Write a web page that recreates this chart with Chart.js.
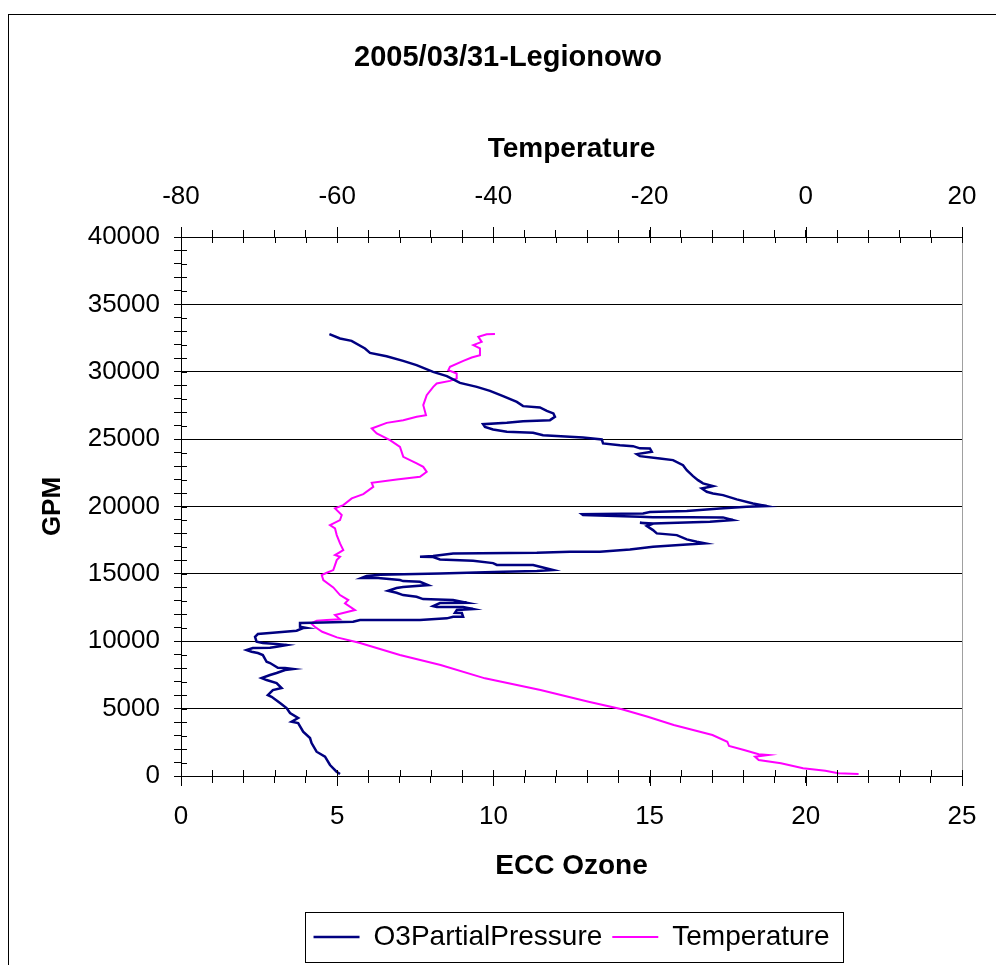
<!DOCTYPE html>
<html>
<head>
<meta charset="utf-8">
<script src="https://cdn.jsdelivr.net/npm/chart.js@4.4.0/dist/chart.umd.min.js"></script>
<style>
  html, body { margin: 0; padding: 0; background: #fff; overflow: hidden; }
  #wrap { width: 996px; height: 965px; }
</style>
</head>
<body>
<div id="wrap"><canvas id="sonde" width="996" height="965"></canvas></div>
<script>
// sounding 2005/03/31 Legionowo
const ozoneGpm = [148, 319, 816, 1432, 1803, 2448, 2819, 3286, 3932, 4028, 4302, 4673, 5044, 5415, 5882, 6009,
  6379, 6528, 6899, 7121, 7270, 7492, 7641, 7863, 7937, 8011, 8030, 8382, 8479, 8976, 9124, 9221, 9347, 9495,
  9517, 9592, 9718, 9792, 9866, 9962, 10333, 10534, 10630, 10778, 10979, 10990, 11075, 11350, 11372, 11446,
  11572, 11580, 11698, 11817, 11825, 12091, 12114, 12314, 12388, 12537, 12545, 12611, 12833, 12856, 13056,
  13130, 13301, 13427, 13597, 13746, 13946, 14020, 14168, 14413, 14465, 14539, 14688, 14695, 14836, 14933,
  15036, 15155, 15207, 15281, 15526, 15652, 15660, 15800, 15971, 16075, 16245, 16268, 16320, 16520, 16565,
  16639, 16645, 16817, 17010, 17188, 17262, 17381, 17559, 17877, 18004, 18248, 18545, 18693, 18790, 18745,
  18864, 18990, 19190, 19195, 19200, 19235, 19361, 19435, 19487, 19584, 19658, 19858, 19976, 20029, 20229,
  20526, 20845, 20971, 21090, 21342, 21512, 21713, 21957, 22254, 22699, 23070, 23441, 23567, 23738, 23886,
  24057, 24309, 24315, 24479, 24554, 24680, 24976, 25125, 25295, 25466, 25540, 25718, 25911, 26111, 26208,
  26334, 26408, 26653, 26905, 27098, 27350, 27447, 27766, 28188, 28582, 28879, 29175, 29672, 29991, 30488,
  30807, 31156, 31401, 31727, 32291, 32469, 32788];
const ozoneValues = [5.09, 4.98, 4.77, 4.61, 4.34, 4.18, 4.13, 3.91, 3.75, 3.54, 3.75, 3.49, 3.38, 3.17, 2.90, 2.78,
  2.94, 3.22, 3.06, 2.74, 2.58, 2.85, 3.06, 3.33, 3.59, 3.33, 3.10, 2.85, 2.74, 2.62, 2.46, 2.26, 2.10, 2.30,
  2.85, 3.06, 3.38, 3.06, 2.62, 2.42, 2.37, 2.46, 2.94, 3.70, 3.91, 4.00, 3.81, 3.81, 4.23, 5.51,
  5.73, 7.65, 8.51, 8.71, 9.03, 8.99, 8.77, 8.83, 9.35, 9.03, 8.19, 8.07, 8.29, 9.15, 8.71,
  7.75, 7.54, 7.11, 6.90, 6.63, 6.90, 7.11, 7.91, 7.65, 7.11, 7.01, 6.31, 5.78, 5.94, 6.37,
  8.29, 10.31, 11.39, 11.91, 11.49, 11.27, 10.11, 9.99, 9.35, 8.29, 8.07, 7.65, 8.07, 8.71, 11.39,
  12.45, 13.41, 14.37, 15.11, 16.19, 16.77, 16.51, 16.19, 15.87, 15.23, 15.11, 14.91, 15.07, 14.69, 15.11,
  16.93, 17.67, 17.35, 16.29, 15.11, 14.69, 12.87, 12.83, 14.79, 15.01, 16.19, 17.25, 18.11, 18.75, 18.31,
  17.79, 17.35, 17.03, 16.83, 16.67, 17.03, 16.71, 16.55, 16.39, 16.19, 16.07, 15.75, 15.33, 14.69, 14.59,
  15.07, 15.01, 14.69, 14.47, 14.05, 13.51, 13.47, 12.87, 11.59, 11.27, 10.43, 9.99, 9.73, 9.67, 10.43,
  10.95, 11.81, 11.97, 11.92, 11.71, 11.49, 10.95, 10.75, 10.31, 9.89, 9.47, 8.93, 8.51, 8.07, 7.54,
  7.11, 6.58, 6.05, 5.89, 5.46, 5.09, 4.75];

const tempGpm = [148, 200, 393, 571, 942, 1187, 1432, 1558, 1610, 1929, 2225, 2544, 3041, 3783, 4399, 4948,
  5512, 6379, 7247, 8234, 8976, 9888, 10289, 10704, 11075, 11327, 11520, 11572, 11624, 11943, 12314, 12811,
  13056, 13427, 13998, 14539, 14910, 15081, 15281, 15652, 16023, 16268, 16394, 16765, 17262, 17877, 18374,
  18619, 18990, 19361, 19858, 20103, 20600, 20919, 21460, 21757, 22010, 22202, 22573, 22944, 23196, 23686,
  24428, 24924, 25421, 25792, 26208, 26408, 26653, 26779, 27521, 28262, 28879, 29131, 29324, 29502, 29873,
  30117, 30362, 30807, 31059, 31230, 31727, 31972, 32217, 32588, 32788, 32795];
const tempValues = [6.76, 4.16, 2.50, -0.35, -3.18, -6.03, -6.50, -4.84, -6.03, -7.91, -9.83, -10.05, -11.95, -16.91, -20.23, -23.55,
  -27.81, -33.97, -41.08, -46.76, -51.97, -57.18, -60.03, -61.92, -62.87, -63.34, -62.62, -61.34, -59.64, -60.28, -57.72, -59.0,
  -58.58, -59.64, -60.50, -61.78, -61.98, -61.34, -60.50, -60.28, -60.06, -59.64, -60.28, -59.22, -59.64, -60.06, -60.28,
  -60.92, -59.64, -59.42, -60.28, -59.22, -58.14, -56.66, -55.38, -55.58, -52.38, -49.40, -48.54, -48.98, -49.82, -51.54,
  -51.96, -53.24, -54.94, -55.58, -53.66, -51.54, -49.82, -48.63, -48.98, -48.54, -47.70, -47.26, -45.56, -44.70, -44.70,
  -45.77, -45.56, -43.85, -42.78, -41.72, -41.72, -42.57, -41.50, -41.93, -40.86, -39.80];

const ozoneLabels = [0, 5, 10, 15, 20, 25];
const tempLabels = [-80, -60, -40, -20, 0, 20];
const gpmLabels = [0, 5000, 10000, 15000, 20000, 25000, 30000, 35000, 40000];

Chart.defaults.font.family = '"Liberation Sans", Arial, sans-serif';
Chart.defaults.color = '#000';

const toPoints = (ys, xs) => ys.map((y, i) => ({ x: xs[i], y: y }));

// page frame, legend box and ticks that cross the axes
const framePlugin = {
  id: 'frame',
  beforeDraw: (chart) => {
    const ctx = chart.ctx;
    ctx.save();
    ctx.strokeStyle = '#000';
    ctx.lineWidth = 1;
    ctx.strokeRect(8.5, 14.5, 2000, 2000);
    ctx.restore();
  },
  afterDraw: (chart) => {
    const ctx = chart.ctx;
    const area = chart.chartArea;
    ctx.save();
    ctx.lineWidth = 1;
    ctx.strokeStyle = '#000';
    const inner = 6;
    const xo = chart.scales.xOz, xt = chart.scales.xTemp, ys = chart.scales.y;
    ctx.beginPath();
    xo.ticks.forEach((t) => {
      const p = Math.round(xo.getPixelForValue(t.value)) + 0.5;
      ctx.moveTo(p, area.bottom);
      ctx.lineTo(p, area.bottom - inner);
      if (ozoneLabels.includes(t.value)) {
        ctx.moveTo(p, area.bottom);
        ctx.lineTo(p, area.bottom + 10);
      }
    });
    xt.ticks.forEach((t) => {
      const p = Math.round(xt.getPixelForValue(t.value)) + 0.5;
      ctx.moveTo(p, area.top);
      ctx.lineTo(p, area.top + inner);
      if (tempLabels.includes(t.value)) {
        ctx.moveTo(p, area.top);
        ctx.lineTo(p, area.top - 10);
      }
    });
    ys.ticks.forEach((t) => {
      const p = Math.round(ys.getPixelForValue(t.value)) + 0.5;
      ctx.moveTo(area.left, p);
      ctx.lineTo(area.left + inner, p);
    });
    ctx.stroke();

    const hb = chart.legend.legendHitBoxes;
    if (hb && hb.length) {
      const last = hb[hb.length - 1];
      const l = Math.round(hb[0].left - 9) + 0.5;
      const r = Math.round(last.left + last.width + 14) + 0.5;
      const t = Math.round(chart.legend.top - 1) + 0.5;
      const b = Math.round(chart.legend.bottom + 1) + 0.5;
      ctx.strokeRect(l, t, r - l, b - t);
    }
    ctx.restore();
  },
};

new Chart(document.getElementById('sonde'), {
  type: 'scatter',
  data: {
    datasets: [
      {
        label: 'O3PartialPressure',
        data: toPoints(ozoneGpm, ozoneValues),
        xAxisID: 'xOz',
        yAxisID: 'y',
        showLine: true,
        borderColor: '#000080',
        backgroundColor: '#000080',
        borderWidth: 2.5,
        pointRadius: 0,
        pointStyle: 'line',
        tension: 0,
      },
      {
        label: 'Temperature',
        data: toPoints(tempGpm, tempValues),
        xAxisID: 'xTemp',
        yAxisID: 'y',
        showLine: true,
        borderColor: '#ff00ff',
        backgroundColor: '#ff00ff',
        borderWidth: 2,
        pointRadius: 0,
        pointStyle: 'line',
        tension: 0,
      },
    ],
  },
  options: {
    responsive: false,
    animation: false,
    devicePixelRatio: 1,
    layout: { padding: { left: 36, right: 16, top: 0, bottom: 4 } },
    plugins: {
      tooltip: { enabled: false },
      title: {
        display: true,
        text: '2005/03/31-Legionowo',
        color: '#000',
        font: { size: 29, weight: 'bold' },
        padding: { top: 41, bottom: 8 },
      },
      legend: {
        position: 'bottom',
        fullSize: false,
        labels: {
          usePointStyle: true,
          pointStyleWidth: 46,
          font: { size: 28 },
          color: '#000',
          padding: 10,
        },
      },
    },
    scales: {
      xOz: {
        type: 'linear',
        position: 'bottom',
        min: 0,
        max: 25,
        afterFit: (scale) => { scale.height = 137; },
        ticks: {
          stepSize: 1,
          autoSkip: false,
          maxRotation: 0,
          padding: 18,
          font: { size: 26 },
          callback: (v) => (ozoneLabels.includes(v) ? v : ''),
        },
        grid: { drawOnChartArea: false, tickLength: 7, tickColor: '#000' },
        border: { color: '#000', width: 1 },
        title: {
          display: true,
          text: 'ECC Ozone',
          font: { size: 28, weight: 'bold' },
          padding: { top: 0, bottom: 30 },
        },
      },
      xTemp: {
        type: 'linear',
        position: 'top',
        min: -80,
        max: 20,
        afterFit: (scale) => { scale.height = 153.2; },
        ticks: {
          stepSize: 4,
          autoSkip: false,
          maxRotation: 0,
          padding: 18,
          font: { size: 26 },
          callback: (v) => (tempLabels.includes(v) ? v : ''),
        },
        grid: { drawOnChartArea: false, tickLength: 7, tickColor: '#000' },
        border: { color: '#000', width: 1 },
        title: {
          display: true,
          text: 'Temperature',
          font: { size: 28, weight: 'bold' },
          padding: { top: 49, bottom: 0 },
        },
      },
      y: {
        type: 'linear',
        position: 'left',
        min: 0,
        max: 40000,
        afterFit: (scale) => { scale.width = 145; },
        ticks: {
          stepSize: 1000,
          autoSkip: false,
          padding: 14,
          font: { size: 26 },
          callback: (v) => (gpmLabels.includes(v) ? v : ''),
        },
        grid: {
          tickLength: 7,
          tickColor: '#000',
          color: (c) => (c.tick && gpmLabels.includes(c.tick.value) ? '#000' : 'rgba(0,0,0,0)'),
          lineWidth: 1,
        },
        border: { color: '#000', width: 1 },
        title: {
          display: true,
          text: 'GPM',
          font: { size: 26, weight: 'bold' },
          padding: { top: 1, bottom: 0 },
        },
      },
      // right edge of the plot area
      yEdge: {
        type: 'linear',
        position: 'right',
        min: 0,
        max: 40000,
        afterFit: (scale) => { scale.width = 18; },
        ticks: { display: false },
        grid: { display: false },
        border: { color: '#a0a0a0', width: 1 },
      },
    },
  },
  plugins: [framePlugin],
});
</script>
</body>
</html>
